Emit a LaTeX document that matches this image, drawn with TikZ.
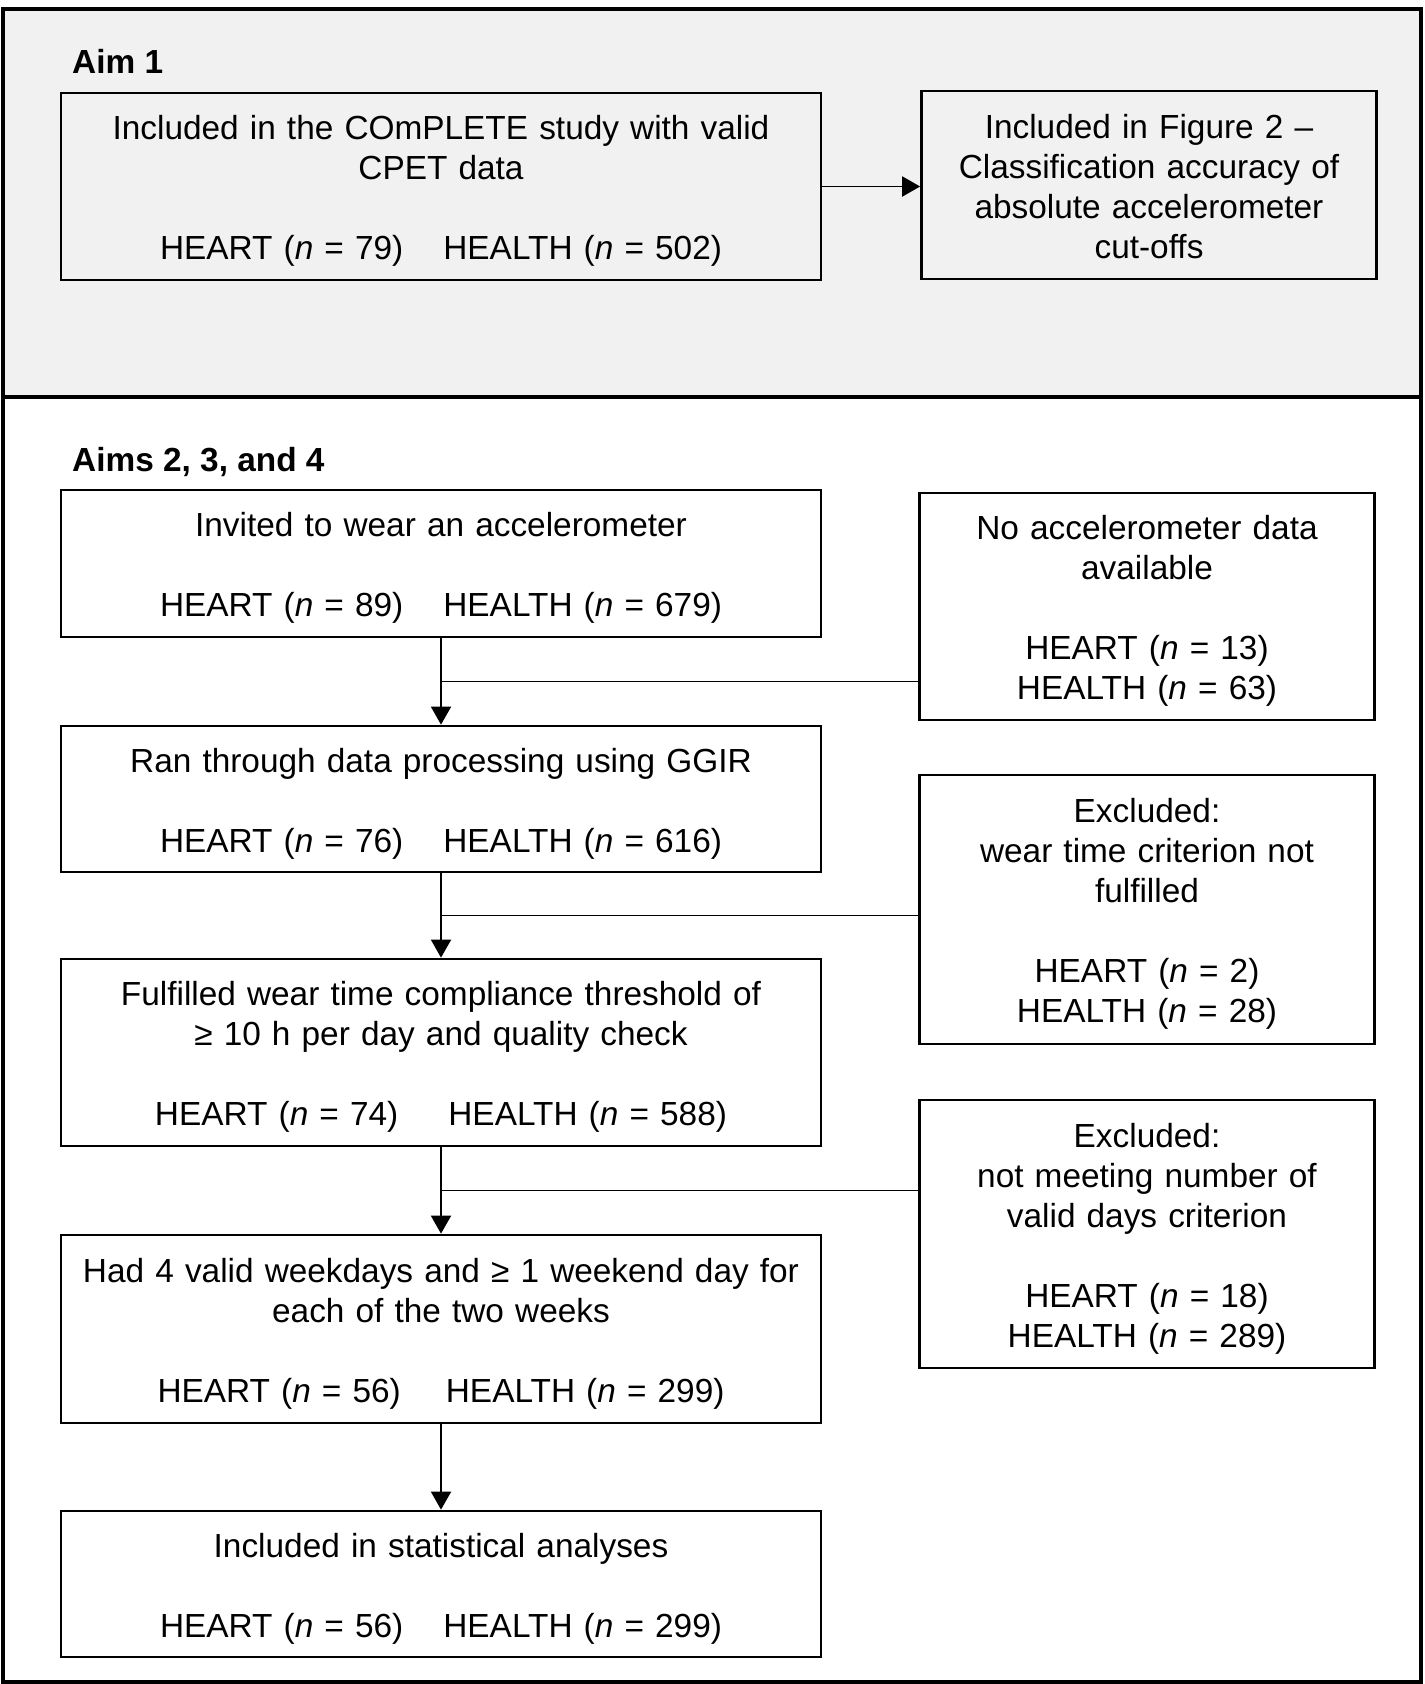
\documentclass[tikz,border=0pt]{standalone}
\usepackage{fontspec}
\setmainfont{Liberation Sans}
\usetikzlibrary{positioning, calc, arrows.meta}

\definecolor{aimgray}{RGB}{241,241,241}
\newcommand{\grp}[3][1.2em]{HEART (\textit{n} = #2)\hspace{#1}HEALTH (\textit{n} = #3)}

\begin{document}
\begin{tikzpicture}[x=0.02cm, y=-0.02cm,
box/.style={draw, line width=1.6pt, align=center, inner sep=0pt, font=\fontsize{19}{22.76}\selectfont,
	execute at begin node=\rule{0pt}{1.1em}, execute at end node=\rule[-0.3em]{0pt}{0.3em}},
stage/.style={box, text width=15.2cm, minimum width=15.2cm},
excl/.style={box, text width=9.1cm, minimum width=9.1cm},
aim/.style={anchor=west, font=\bfseries\fontsize{19}{22.76}\selectfont},
arr/.style={line width=1.1pt, -{Triangle[length=0.36cm, width=0.4cm]}},
exline/.style={line width=1.1pt}]

\useasboundingbox (0,0) rectangle (1424,1684);

%frame
\fill[aimgray] (3,9) rectangle (1421,397);
\draw[line width=1.9pt] (3,9) rectangle (1421,1682);
\draw[line width=1.9pt] (3,397) -- (1421,397);

%aim 1
\node[aim] (aim1) at (66,61) {Aim 1};
\node[stage, minimum height=3.74cm] (inc) at (441,186.5)
	{Included in the COmPLETE study with valid\\CPET data\\[0.8cm]\grp{79}{502}};
\node[excl, minimum height=3.76cm] (fig2) at (1149,185)
	{Included in Figure 2 --\\Classification accuracy of\\absolute accelerometer\\cut-offs};
\draw[arr] (inc.east) -- (inc.east -| fig2.west);

%aims 2, 3, 4
\node[aim] (aim2) at (66,462) {Aims 2, 3, and 4};
\node[stage, minimum height=2.94cm] (inv) at (441,563.5)
	{Invited to wear an accelerometer\\[0.8cm]\grp{89}{679}};
\node[stage, minimum height=2.92cm] (ggir) at (441,799)
	{Ran through data processing using GGIR\\[0.8cm]\grp{76}{616}};
\node[stage, minimum height=3.74cm] (wear) at (441,1052.5)
	{Fulfilled wear time compliance threshold of\\≥ 10 h per day and quality check\\[0.8cm]\grp[1.5em]{74}{588}};
\node[stage, minimum height=3.76cm] (days) at (441,1329)
	{Had 4 valid weekdays and ≥ 1 weekend day for\\each of the two weeks\\[0.8cm]\grp[1.35em]{56}{299}};
\node[stage, minimum height=2.92cm] (stat) at (441,1584)
	{Included in statistical analyses\\[0.8cm]\grp{56}{299}};

%exclusions
\node[excl, minimum height=4.54cm] (nodat) at (1147,606.5)
	{No accelerometer data\\available\\[0.8cm]HEART (\textit{n} = 13)\\HEALTH (\textit{n} = 63)};
\node[excl, minimum height=5.38cm] (excwear) at (1147,909.5)
	{Excluded:\\wear time criterion not\\fulfilled\\[0.8cm]HEART (\textit{n} = 2)\\HEALTH (\textit{n} = 28)};
\node[excl, minimum height=5.36cm] (excdays) at (1147,1234)
	{Excluded:\\not meeting number of\\valid days criterion\\[0.8cm]HEART (\textit{n} = 18)\\HEALTH (\textit{n} = 289)};

\draw[arr] (inv) -- (ggir);
\draw[arr] (ggir) -- (wear);
\draw[arr] (wear) -- (days);
\draw[arr] (days) -- (stat);

\coordinate (j1) at ($(inv.south)!0.5!(ggir.north)$);
\coordinate (j2) at ($(ggir.south)!0.5!(wear.north)$);
\coordinate (j3) at ($(wear.south)!0.5!(days.north)$);
\draw[exline] (nodat.west |- j1) -- (j1);
\draw[exline] (excwear.west |- j2) -- (j2);
\draw[exline] (excdays.west |- j3) -- (j3);
\end{tikzpicture}
\end{document}
